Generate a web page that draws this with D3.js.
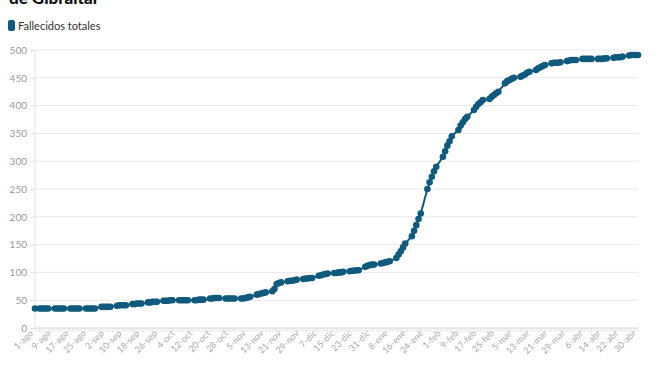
<!DOCTYPE html>
<html><head><meta charset="utf-8">
<script src="https://cdn.jsdelivr.net/npm/d3@7"></script>
<style>
html,body{margin:0;padding:0;background:#fff;}
svg{display:block;font-family:Lato,"Open Sans",sans-serif;}
</style></head>
<body><svg id="c" width="659" height="371"></svg>
<script>
const titleText = "de Gibraltar";
const seriesName = "Fallecidos totales";
const firstDate = "2020-08-01";
const firstValue = 35;
// Monday of each reported week (values Mon..Fri)
const weekStarts = ["2020-08-03","2020-08-10","2020-08-17","2020-08-24","2020-08-31","2020-09-07","2020-09-14","2020-09-21","2020-09-28","2020-10-05","2020-10-12","2020-10-19","2020-10-26","2020-11-02","2020-11-09","2020-11-16","2020-11-23","2020-11-30","2020-12-07","2020-12-14","2020-12-21","2020-12-28","2021-01-04","2021-01-11","2021-01-18","2021-01-25","2021-02-01","2021-02-08","2021-02-15","2021-02-22","2021-03-01","2021-03-08","2021-03-15","2021-03-22","2021-03-29","2021-04-05","2021-04-12","2021-04-19","2021-04-26"];
const weeklyDeaths = [
 [35,35,35,35,35],[35,35,35,35,35],[35,35,35,35,35],[35,35,35,35,35],
 [38,38,38,38,38],[40,41,41,41,41],[43,43,44,44,44],[46,46,47,47,47],
 [49,49,49,50,50],[50,50,50,50,50],[50,50,51,51,51],[53,53,54,54,54],
 [53,53,53,53,53],[53,53,54,55,56],[60,61,62,63,64],[66,70,79,81,82],
 [84,85,85,86,87],[88,89,89,90,90],[94,95,96,97,98],[99,99,100,100,101],
 [102,103,103,104,104],[110,112,113,114,114],[116,117,118,119,120],[126,132,138,145,152],
 [165,175,185,196,206],[250,262,272,282,290],[308,318,328,336,345],[356,364,370,376,380],
 [392,398,403,406,410],[412,416,419,422,425],[440,444,446,448,450],[452,454,456,459,461],
 [464,467,469,471,473],[476,477,477,477,478],[480,481,482,482,482],[484,484,484,484,484],
 [484,484,484,485,485],[486,487,487,487,488],[490,491,491,491,491]
];
const yTicks = [0,50,100,150,200,250,300,350,400,450,500];
const monthNames = ["ene","feb","mar","abr","may","jun","jul","ago","sep","oct","nov","dic"];
const xTickStart = "2020-08-01", xTickEnd = "2021-04-30", xTickStep = 8;

const parse = d3.timeParse("%Y-%m-%d");
const data = [{date: parse(firstDate), value: firstValue}];
weekStarts.forEach((ws, i) => {
  weeklyDeaths[i].forEach((v, k) => data.push({date: d3.timeDay.offset(parse(ws), k), value: v}));
});

const svg = d3.select("#c");
const color = "#0f5a7d";
const x = d3.scaleTime().domain([parse(xTickStart), parse(xTickEnd)]).range([35, 638]);
const y = d3.scaleLinear().domain([0, 500]).range([328, 50]);

// title (cut off at the top)
svg.append("text").attr("x", 9).attr("y", 4).attr("font-size", 17).attr("font-weight", 900)
  .attr("fill", "#111").text(titleText);

// legend
svg.append("rect").attr("x", 8).attr("y", 20).attr("width", 7).attr("height", 11).attr("rx", 2).attr("fill", color);
svg.append("text").attr("x", 18).attr("y", 30).attr("font-size", 11).attr("fill", "#333").text(seriesName);

// grid
svg.append("g").selectAll("line").data(yTicks).join("line")
  .attr("x1", 33).attr("x2", 638).attr("y1", d => y(d)).attr("y2", d => y(d))
  .attr("stroke", "#e8e8e8").attr("stroke-width", 1);
svg.append("line").attr("x1", 35).attr("x2", 35).attr("y1", 50).attr("y2", 328).attr("stroke", "#e2e2e2");

// y axis
const yAxis = d3.axisLeft(y).tickValues(yTicks).tickSize(3).tickPadding(4);
const gy = svg.append("g").attr("transform", "translate(34,0)").call(yAxis);
gy.select(".domain").remove();
gy.selectAll("line").attr("stroke", "#ddd");
gy.selectAll("text").attr("fill", "#999").attr("font-size", 10).attr("font-family", "Lato,sans-serif");

// x axis: daily minor ticks
const allDays = d3.timeDay.range(parse(xTickStart), d3.timeDay.offset(parse(xTickEnd), 1));
svg.append("g").selectAll("line").data(allDays).join("line")
  .attr("x1", d => x(d)).attr("x2", d => x(d)).attr("y1", 328).attr("y2", 332)
  .attr("stroke", "#e0e0e0").attr("stroke-width", 0.8);
svg.append("line").attr("x1", 35).attr("x2", 638).attr("y1", 328).attr("y2", 328).attr("stroke", "#e0e0e0");

const labelDays = d3.timeDay.every(1).range(parse(xTickStart), d3.timeDay.offset(parse(xTickEnd), 1))
  .filter((d, i) => i % xTickStep === 0);
const fmt = d => d.getDate() + "-" + monthNames[d.getMonth()];
const xAxis = d3.axisBottom(x).tickValues(labelDays).tickFormat(fmt).tickSize(0).tickPadding(0);
const gx = svg.append("g").attr("transform", "translate(0,328)").call(xAxis);
gx.select(".domain").remove();
gx.selectAll("text").attr("fill", "#aaa").attr("font-size", 9).attr("font-family", "Lato,sans-serif")
  .attr("text-anchor", "end").attr("dy", 0)
  .attr("transform", "translate(-2,6) rotate(-45)");

// line
const line = d3.line().x(d => x(d.date)).y(d => y(d.value));
svg.append("path").datum(data).attr("d", line).attr("fill", "none").attr("stroke", color).attr("stroke-width", 2);
svg.append("g").selectAll("circle").data(data).join("circle")
  .attr("cx", d => x(d.date)).attr("cy", d => y(d.value)).attr("r", 3.3).attr("fill", color);
</script></body></html>
